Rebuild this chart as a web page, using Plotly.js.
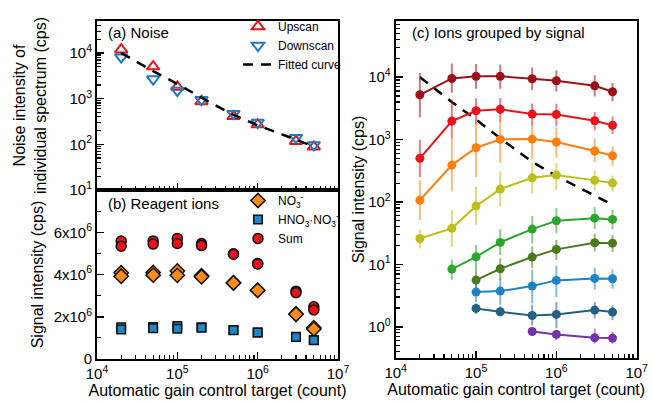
<!DOCTYPE html>
<html>
<head>
<meta charset="utf-8">
<script src="https://cdn.plot.ly/plotly-3.0.1.min.js"></script>
<style>html,body{margin:0;padding:0;background:#fff}#chart{width:653px;height:401px}</style>
</head>
<body>
<div id="chart"></div>
<script>
// ---------- data ----------
const agcTarget = [2e4, 5e4, 1e5, 2e5, 5e5, 1e6, 3e6, 5e6];

// (a) noise
const noiseUpscan   = [11800, 5030, 1800, 870, 410, 270, 117, 88];
const noiseDownscan = [8100, 2680, 1500, 950, 470, 300, 140, 97];
const fitX = [2e4, 5e4, 1e5, 2e5, 5e5, 1e6, 2e6, 3e6, 5e6];
const fitY = [10000, 4000, 2100, 1050, 440, 260, 165, 125, 90];

// (b) reagent ions (upscan / downscan)
const no3Up     = [4.08e6, 4.10e6, 4.17e6, 3.94e6, 3.61e6, 3.26e6, 2.13e6, 1.48e6];
const no3Down   = [3.92e6, 3.97e6, 3.96e6, 3.89e6, 3.60e6, 3.25e6, 2.12e6, 1.42e6];
const hnoUp     = [1.50e6, 1.52e6, 1.56e6, 1.50e6, 1.37e6, 1.26e6, 1.05e6, 0.90e6];
const hnoDown   = [1.40e6, 1.46e6, 1.43e6, 1.48e6, 1.36e6, 1.25e6, 1.04e6, 0.89e6];
const sumUp     = [5.58e6, 5.59e6, 5.71e6, 5.47e6, 4.98e6, 4.52e6, 3.21e6, 2.47e6];
const sumDown   = [5.34e6, 5.44e6, 5.47e6, 5.37e6, 4.96e6, 4.50e6, 3.14e6, 2.32e6];

// (c) ions grouped by signal
const group1 = [5220, 9560, 10300, 10300, 9420, 8750, 7270, 5830];
const group2 = [500, 1980, 2900, 3050, 2560, 2530, 2000, 1690];
const group3 = [107, 390, 740, 1007, 1018, 913, 655, 550];
const group4 = [26, 37.8, 86, 161, 244, 270, 222, 201];
const group5 = [null, 8.4, 13.2, 22.5, 36.8, 50, 55, 52.6];
const group6 = [null, null, 5.6, 8.5, 13.1, 17.4, 22.2, 21.9];
const group7 = [null, null, 3.6, 3.73, 4.49, 5.54, 5.96, 5.88];
const group8 = [null, null, 1.97, 1.74, 1.52, 1.58, 1.85, 1.72];
const group9 = [null, null, null, null, 0.84, 0.755, 0.667, 0.66];
// error bars, in decades above / below each point
const group1ErrUp = [0.35, 0.24, 0.2, 0.19, 0.18, 0.17, 0.17, 0.14];
const group1ErrDn = [0.36, 0.23, 0.2, 0.2, 0.18, 0.17, 0.17, 0.15];
const group2ErrUp = [0.3, 0.34, 0.2, 0.18, 0.17, 0.17, 0.14, 0.14];
const group2ErrDn = [0.3, 0.28, 0.22, 0.2, 0.19, 0.19, 0.15, 0.14];
const group3ErrUp = [0.32, 0.43, 0.44, 0.31, 0.21, 0.23, 0.2, 0.15];
const group3ErrDn = [0.32, 0.42, 0.47, 0.38, 0.31, 0.25, 0.18, 0.16];
const group4ErrUp = [0.14, 0.3, 0.31, 0.28, 0.24, 0.19, 0.16, 0.12];
const group4ErrDn = [0.16, 0.3, 0.3, 0.28, 0.25, 0.24, 0.16, 0.14];
const group5ErrUp = [null, 0.155, 0.19, 0.21, 0.21, 0.2, 0.18, 0.15];
const group5ErrDn = [null, 0.165, 0.21, 0.2, 0.23, 0.2, 0.17, 0.16];
const group6ErrUp = [null, null, 0.16, 0.17, 0.17, 0.15, 0.15, 0.13];
const group6ErrDn = [null, null, 0.16, 0.18, 0.18, 0.17, 0.14, 0.14];
const group7ErrUp = [null, null, 0.14, 0.2, 0.26, 0.24, 0.17, 0.15];
const group7ErrDn = [null, null, 0.16, 0.22, 0.28, 0.27, 0.18, 0.16];
const group8ErrUp = [null, null, 0.08, 0.09, 0.17, 0.2, 0.13, 0.11];
const group8ErrDn = [null, null, 0.09, 0.07, 0.16, 0.22, 0.13, 0.13];
const group9ErrUp = [null, null, null, null, 0.06, 0.07, 0.15, 0.1];
const group9ErrDn = [null, null, null, null, 0.07, 0.09, 0.09, 0.09];

// tick labels
const logTickVals = [1e4, 1e5, 1e6, 1e7];
const logTickText = ['10<sup>4</sup>', '10<sup>5</sup>', '10<sup>6</sup>', '10<sup>7</sup>'];
const noiseTickVals = [10, 100, 1000, 10000];
const noiseTickText = ['10<sup>1</sup>', '10<sup>2</sup>', '10<sup>3</sup>', '10<sup>4</sup>'];
const reagentTickVals = [0, 2e6, 4e6, 6e6];
const reagentTickText = ['0', '2x10<sup>6</sup>', '4x10<sup>6</sup>', '6x10<sup>6</sup>'];
const signalTickVals = [1, 10, 100, 1000, 10000];
const signalTickText = ['10<sup>0</sup>', '10<sup>1</sup>', '10<sup>2</sup>', '10<sup>3</sup>', '10<sup>4</sup>'];

// ---------- build ----------
function minorLog(lo, hi) { // minor tick positions 2..9 per decade
  const v = [];
  for (let d = lo; d < hi; d++) for (let m = 2; m <= 9; m++) v.push(m * Math.pow(10, d));
  return v;
}
const FONT = 'Liberation Sans, Arial, sans-serif';
const traces = [];

// (a)
traces.push({x: agcTarget, y: noiseUpscan, xaxis: 'x', yaxis: 'y', type: 'scatter', mode: 'markers', name: 'Upscan', legend: 'legend',
  marker: {symbol: 'triangle-up-open', size: 11, color: '#e8131b', line: {width: 2}}});
traces.push({x: agcTarget, y: noiseDownscan, xaxis: 'x', yaxis: 'y', type: 'scatter', mode: 'markers', name: 'Downscan', legend: 'legend',
  marker: {symbol: 'triangle-down-open', size: 11, color: '#1a7cc1', line: {width: 2}}});
traces.push({x: fitX, y: fitY, xaxis: 'x', yaxis: 'y', type: 'scatter', mode: 'lines', name: 'Fitted curve', legend: 'legend',
  line: {color: '#000', width: 2.5, dash: '10px,8px'}});

// (b)
const xb = agcTarget.concat(agcTarget);
traces.push({x: xb, y: no3Up.concat(no3Down), xaxis: 'x2', yaxis: 'y2', type: 'scatter', mode: 'markers', name: 'NO<sub>3</sub><sup>-</sup>', legend: 'legend2',
  marker: {symbol: 'diamond', size: 11, color: '#ff8c1a', line: {width: 1.5, color: '#111'}}});
traces.push({x: xb, y: hnoUp.concat(hnoDown), xaxis: 'x2', yaxis: 'y2', type: 'scatter', mode: 'markers', name: 'HNO<sub>3</sub>·NO<sub>3</sub><sup>-</sup>', legend: 'legend2',
  marker: {symbol: 'square', size: 8.5, color: '#1f86c8', line: {width: 1.5, color: '#111'}}});
traces.push({x: xb, y: sumUp.concat(sumDown), xaxis: 'x2', yaxis: 'y2', type: 'scatter', mode: 'markers', name: 'Sum', legend: 'legend2',
  marker: {symbol: 'circle', size: 10, color: '#e8131b', line: {width: 1.5, color: '#111'}}});

// (c)
traces.push({x: fitX, y: fitY, xaxis: 'x3', yaxis: 'y3', type: 'scatter', mode: 'lines', showlegend: false,
  line: {color: '#000', width: 2.5, dash: '10px,8px'}});
const groups = [
  [group1, group1ErrUp, group1ErrDn, '155,17,22'],
  [group2, group2ErrUp, group2ErrDn, '232,19,27'],
  [group3, group3ErrUp, group3ErrDn, '255,127,14'],
  [group4, group4ErrUp, group4ErrDn, '189,189,28'],
  [group5, group5ErrUp, group5ErrDn, '44,165,44'],
  [group6, group6ErrUp, group6ErrDn, '75,122,31'],
  [group7, group7ErrUp, group7ErrDn, '31,130,196'],
  [group8, group8ErrUp, group8ErrDn, '36,96,127'],
  [group9, group9ErrUp, group9ErrDn, '116,51,168']
];
groups.forEach(([ys, up, dn, rgb]) => {
  const plus = ys.map((v, i) => v == null ? null : v * (Math.pow(10, up[i]) - 1));
  const minus = ys.map((v, i) => v == null ? null : v * (1 - Math.pow(10, -dn[i])));
  traces.push({x: agcTarget, y: ys, xaxis: 'x3', yaxis: 'y3', type: 'scatter', mode: 'lines+markers', showlegend: false,
    line: {color: 'rgb(' + rgb + ')', width: 2}, marker: {size: 9, color: 'rgb(' + rgb + ')'},
    error_y: {type: 'data', symmetric: false, array: plus, arrayminus: minus, color: 'rgba(' + rgb + ',0.55)', thickness: 2, width: 0}});
});

const W = 653, H = 401;
const fx = p => p / W, fy = p => 1 - p / H;
const axCommon = {showline: true, linewidth: 2, linecolor: '#000', mirror: true, ticks: 'inside', ticklen: 7, tickwidth: 1.5, tickcolor: '#000',
  showgrid: false, zeroline: false, tickfont: {family: FONT, size: 15, color: '#000'}, automargin: false};
const xMinor = {tickmode: 'array', tickvals: minorLog(4, 7), ticks: 'inside', ticklen: 4, tickwidth: 1.2, tickcolor: '#000'};
const titleFont = {family: FONT, size: 16, color: '#000'};

const layout = {
  width: W, height: H, margin: {l: 0, r: 0, t: 0, b: 0}, paper_bgcolor: '#fff', plot_bgcolor: '#fff',
  font: {family: FONT, color: '#000'},
  xaxis: Object.assign({}, axCommon, {type: 'log', range: [4, 7], domain: [fx(97), fx(338)], anchor: 'y',
    tickmode: 'array', tickvals: logTickVals, ticktext: logTickText, showticklabels: false, minor: xMinor}),
  yaxis: Object.assign({}, axCommon, {type: 'log', range: [1, 4.7], domain: [fy(190), fy(21)], anchor: 'x',
    tickmode: 'array', tickvals: noiseTickVals, ticktext: noiseTickText,
    minor: {tickmode: 'array', tickvals: minorLog(1, 5), ticks: 'inside', ticklen: 4, tickwidth: 1.2, tickcolor: '#000'},
    title: {text: 'Noise intensity of<br>individual spectrum (cps)', font: titleFont, standoff: 19}}),
  xaxis2: Object.assign({}, axCommon, {type: 'log', range: [4, 7], domain: [fx(97), fx(338)], anchor: 'y2',
    tickmode: 'array', tickvals: logTickVals, ticktext: logTickText, minor: xMinor,
    title: {text: 'Automatic gain control target (count)', font: titleFont, standoff: 4}}),
  yaxis2: Object.assign({}, axCommon, {range: [0, 8e6], domain: [fy(359), fy(190)], anchor: 'x2',
    tickmode: 'array', tickvals: reagentTickVals, ticktext: reagentTickText,
    minor: {dtick: 1e6, ticks: 'inside', ticklen: 4, tickwidth: 1.2, tickcolor: '#000'},
    title: {text: 'Signal intensity (cps)', font: titleFont, standoff: 6}}),
  xaxis3: Object.assign({}, axCommon, {type: 'log', range: [4, 7], domain: [fx(395.7), fx(636.7)], anchor: 'y3',
    tickmode: 'array', tickvals: logTickVals, ticktext: logTickText, minor: xMinor,
    title: {text: 'Automatic gain control target (count)', font: titleFont, standoff: 4}}),
  yaxis3: Object.assign({}, axCommon, {type: 'log', range: [-0.5, 4.9], domain: [fy(358), fy(21)], anchor: 'x3',
    tickmode: 'array', tickvals: signalTickVals, ticktext: signalTickText,
    minor: {tickmode: 'array', tickvals: minorLog(-1, 5), ticks: 'inside', ticklen: 4, tickwidth: 1.2, tickcolor: '#000'},
    title: {text: 'Signal intensity (cps)', font: titleFont, standoff: 0}}),
  legend: {x: fx(238), y: fy(12), xanchor: 'left', yanchor: 'top', bgcolor: 'rgba(0,0,0,0)', font: {family: FONT, size: 12, color: '#000'},
    itemwidth: 30, tracegroupgap: 0},
  legend2: {x: fx(238), y: fy(186), xanchor: 'left', yanchor: 'top', bgcolor: 'rgba(0,0,0,0)', font: {family: FONT, size: 12, color: '#000'},
    itemwidth: 30},
  annotations: [
    {text: '(a) Noise', xref: 'paper', yref: 'paper', x: fx(106), y: fy(33), xanchor: 'left', yanchor: 'middle', showarrow: false, font: {family: FONT, size: 15, color: '#000'}},
    {text: '(b) Reagent ions', xref: 'paper', yref: 'paper', x: fx(106), y: fy(203), xanchor: 'left', yanchor: 'middle', showarrow: false, font: {family: FONT, size: 15, color: '#000'}},
    {text: '(c) Ions grouped by signal', xref: 'paper', yref: 'paper', x: fx(410), y: fy(33), xanchor: 'left', yanchor: 'middle', showarrow: false, font: {family: FONT, size: 15, color: '#000'}}
  ],
  showlegend: true
};

Plotly.newPlot('chart', traces, layout, {displayModeBar: false, staticPlot: true});
</script>
</body>
</html>
